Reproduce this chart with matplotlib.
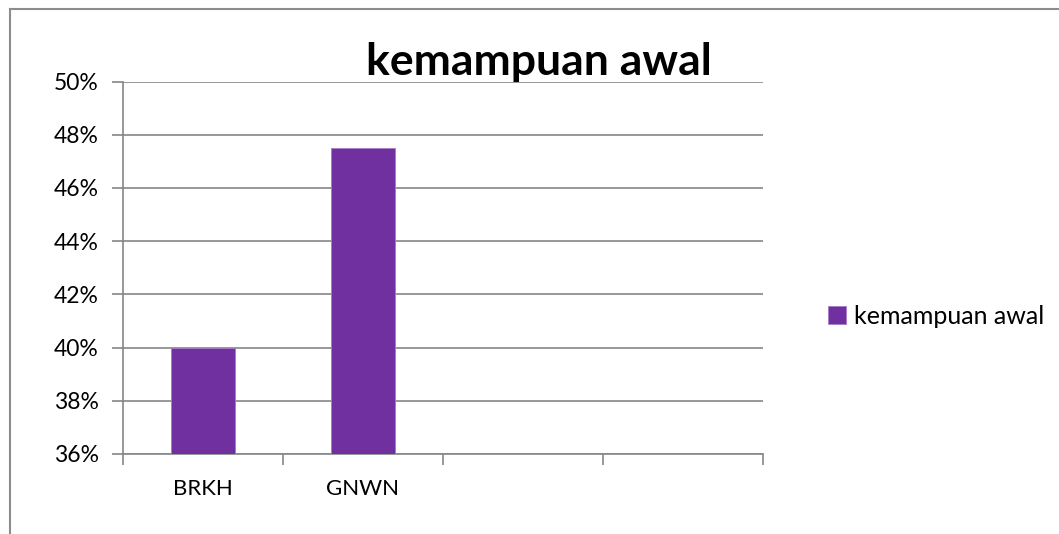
import matplotlib
matplotlib.use("Agg")
import matplotlib.pyplot as plt
from matplotlib.lines import Line2D
from matplotlib.ticker import FuncFormatter, FixedLocator

categories = ["BRKH", "GNWN", "", ""]
values = [40.0, 47.5, None, None]
series_name = "kemampuan awal"
title = "kemampuan awal"
y_ticks = [36, 38, 40, 42, 44, 46, 48, 50]

plt.rcParams['font.family'] = ['Lato', 'DejaVu Sans']

W, H = 1059, 534
fig = plt.figure(figsize=(W / 100, H / 100), dpi=100)
ax = fig.add_axes([122.5 / W, 1 - 454 / H, (763 - 122.5) / W, (454 - 81.5) / H])

grey = "#868686"
bar_color = "#7030A0"

xs = [i for i, v in enumerate(values) if v is not None]
vs = [v for v in values if v is not None]
bars = ax.bar(xs, [v - 36 for v in vs], bottom=36, width=0.4, color=bar_color,
              edgecolor="#a77cc4", linewidth=0.6, zorder=3, label=series_name)

ax.set_xlim(-0.5, len(categories) - 0.5)
ax.set_ylim(36, 50)
ax.set_yticks(y_ticks)
ax.yaxis.set_major_formatter(FuncFormatter(lambda v, p: f"{v:.0f}%"))
ax.grid(axis="y", color=grey, linewidth=1.2, zorder=1)
ax.set_axisbelow(True)

ax.set_xticks(range(len(categories)))
ax.set_xticklabels(categories)
ax.xaxis.set_minor_locator(FixedLocator([i - 0.5 for i in range(len(categories) + 1)]))
ax.tick_params(axis="x", which="major", length=0, pad=18, labelsize=16)
ax.tick_params(axis="x", which="minor", length=8, width=1.2, color=grey, direction="out")
ax.tick_params(axis="y", which="major", length=8, width=1.2, color=grey, direction="out",
               pad=9, labelsize=16.5)

for s in ["top", "right"]:
    ax.spines[s].set_visible(False)
for s in ["left", "bottom"]:
    ax.spines[s].set_color(grey)
    ax.spines[s].set_linewidth(1.2)

fig.text(539 / W, 1 - 75 / H, title, ha="center", va="baseline",
         fontsize=32, fontweight="bold")

leg = fig.legend(handles=[bars], labels=[series_name], loc="center left",
                 bbox_to_anchor=(828 / W, 1 - 316 / H), frameon=False,
                 handlelength=0.7, handleheight=0.7, handletextpad=0.35,
                 borderpad=0, borderaxespad=0, fontsize=18)

# outer chart frame (top and left edges)
fig.add_artist(Line2D([10 / W, 10 / W], [0, 1 - 9 / H], transform=fig.transFigure,
                      color="#8c8c8c", linewidth=1.5))
fig.add_artist(Line2D([10 / W, 1], [1 - 9 / H, 1 - 9 / H], transform=fig.transFigure,
                      color="#8c8c8c", linewidth=1.5))

fig.savefig("out.png", dpi=100, facecolor="white")
